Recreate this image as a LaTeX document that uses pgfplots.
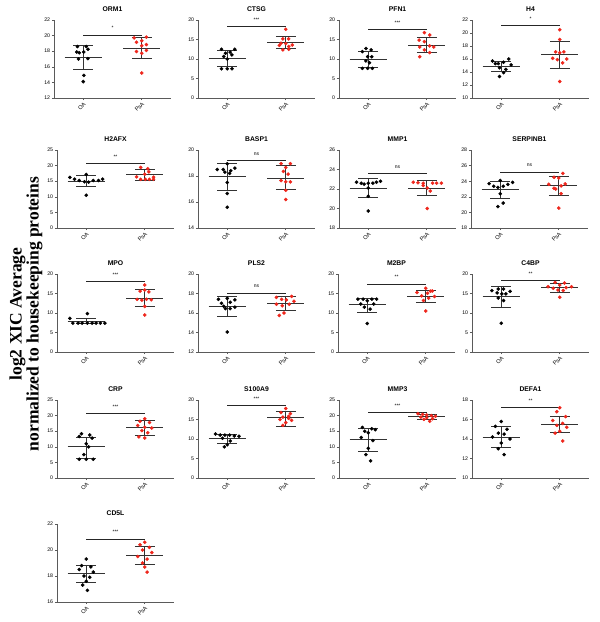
\documentclass[border=0pt]{standalone}
\usepackage{fontspec}
\setmainfont{Liberation Sans}
\newfontfamily\labelfont{Liberation Serif}
\usepackage{pgfplots}
\pgfplotsset{compat=1.18}
\definecolor{psared}{RGB}{238,38,28}
\definecolor{axgray}{RGB}{90,90,90}

\pgfplotsset{
  panel/.style={
    width=117pt, height=78pt, scale only axis,
    anchor=south west,
    axis x line=bottom, axis y line=left,
    axis line style={-, axgray, line width=0.8pt},
    xmin=-0.5, xmax=1.5, xtick={0,1}, xticklabels={OA,PsA},
    tick align=outside, major tick length=2.2pt,
    tick style={axgray, line width=0.6pt},
    yticklabel style={font=\fontsize{5.2}{6}\selectfont, inner sep=1.5pt},
    xticklabel style={font=\fontsize{5.6}{6}\selectfont, rotate=45, anchor=north east, inner sep=1pt},
    /pgf/number format/assume math mode=true,
    title style={font=\bfseries\fontsize{6.8}{7}\selectfont, yshift=-1pt},
    clip=false,
  },
  oa/.style={only marks, mark=*, mark size=1.6pt, black},
  psa/.style={only marks, mark=*, mark size=1.6pt, psared, mark options={draw=psared, fill=psared}},
  meanline/.style={black!80, line width=0.8pt, no marks},
  sdline/.style={black!80, line width=0.6pt, no marks},
  sigline/.style={black!85, line width=0.9pt, no marks},
}
\newcommand{\msdO}[3]{%
  \addplot[meanline] coordinates {(-0.32,#1) (0.32,#1)};
  \addplot[sdline] coordinates {(-0.17,#2) (0.17,#2)};
  \addplot[sdline] coordinates {(-0.17,#3) (0.17,#3)};
  \addplot[sdline] coordinates {(0,#2) (0,#3)};}
\newcommand{\msdP}[3]{%
  \addplot[meanline] coordinates {(0.68,#1) (1.32,#1)};
  \addplot[sdline] coordinates {(0.83,#2) (1.17,#2)};
  \addplot[sdline] coordinates {(0.83,#3) (1.17,#3)};
  \addplot[sdline] coordinates {(1,#2) (1,#3)};}
\newcommand{\sig}[2]{%
  \addplot[sigline] coordinates {(0,#1) (1,#1)} node[pos=0.5, above=1.5pt, black, font=\fontsize{5}{5}\selectfont] {#2};}

\begin{document}
\begin{tikzpicture}
\path[use as bounding box] (0,0) rectangle (600pt,-622pt);

% ---- row 1 ----
\begin{axis}[panel, at={(54pt,-98pt)}, title={ORM1}, ymin=12, ymax=22, ytick distance=2]
\addplot[oa] coordinates {(-0.10,18.6)(0.05,18.6)(0.08,18.25)(-0.11,17.9)(-0.07,17.8)(0.01,17.9)(-0.08,17.0)(0.08,17.05)(0.01,14.9)(0,14.1)};
\addplot[psa] coordinates {(0.87,19.7)(1.08,19.8)(0.91,19.15)(1.0,19.35)(1.08,18.85)(0.91,17.95)(1.08,18.1)(1.0,17.75)(1.0,18.7)(1.0,15.2)};
\msdO{17.2}{15.65}{18.75}
\msdP{18.4}{17.1}{19.75}
\sig{20.05}{*}
\end{axis}

\begin{axis}[panel, at={(198pt,-98pt)}, title={CTSG}, ymin=0, ymax=20, ytick distance=5]
\addplot[oa] coordinates {(-0.10,12.5)(0.13,12.5)(-0.03,11.5)(0.05,11.75)(0.08,11.05)(-0.06,10.65)(0,10.0)(-0.10,7.5)(0,7.5)(0.08,7.5)};
\addplot[psa] coordinates {(1.0,17.6)(0.95,15.15)(1.05,15.15)(0.92,14.05)(1.0,13.95)(1.11,13.6)(1.05,13.2)(0.95,12.35)(1.05,12.5)(0.89,13.5)};
\msdO{10.2}{8.25}{12.2}
\msdP{14.2}{12.7}{15.75}
\sig{18.3}{***}
\end{axis}

\begin{axis}[panel, at={(339pt,-98pt)}, title={PFN1}, ymin=0, ymax=20, ytick distance=5]
\addplot[oa] coordinates {(-0.04,12.7)(0.05,12.35)(-0.10,11.9)(-0.01,10.6)(0.06,10.6)(-0.04,9.5)(0.02,9.05)(-0.10,7.6)(-0.01,7.6)(0.07,7.6)};
\addplot[psa] coordinates {(0.96,16.75)(1.05,16.15)(0.87,14.85)(0.96,14.45)(1.05,13.35)(1.12,13.1)(0.88,13.1)(0.96,12.35)(1.05,11.65)(0.88,10.6)};
\msdO{9.8}{7.8}{11.9}
\msdP{13.45}{11.65}{15.5}
\sig{17.6}{***}
\end{axis}

\begin{axis}[panel, at={(472pt,-98pt)}, title={H4}, ymin=10, ymax=22, ytick distance=2]
\addplot[oa] coordinates {(-0.15,15.7)(0.13,16.0)(0.04,15.5)(-0.10,15.3)(-0.05,15.3)(0.17,15.1)(-0.03,14.65)(0.08,14.4)(0.04,13.9)(-0.03,13.3)};
\addplot[psa] coordinates {(1.0,20.5)(1.0,19.0)(0.93,17.1)(1.0,16.95)(1.07,17.1)(0.88,16.1)(0.96,15.9)(1.05,15.4)(1.12,16.0)(1.0,12.55)};
\msdO{14.9}{14.15}{15.7}
\msdP{16.75}{14.55}{18.8}
\sig{21.15}{*}
\end{axis}

% ---- row 2 ----
\begin{axis}[panel, at={(57pt,-228pt)}, title={H2AFX}, ymin=0, ymax=25, ytick distance=5]
\addplot[oa] coordinates {(-0.28,16.2)(-0.20,15.65)(-0.12,15.25)(-0.03,14.8)(0.04,14.7)(0.12,15.25)(0.21,15.25)(0.28,15.65)(0,17.15)(0,10.5)};
\addplot[psa] coordinates {(0.93,19.4)(1.05,19.0)(1.07,18.0)(0.86,16.4)(0.93,15.6)(1.01,15.6)(1.08,15.6)(1.15,15.6)(1.0,17.2)(1.15,16.3)};
\msdO{15.0}{13.4}{16.85}
\msdP{17.15}{15.45}{18.9}
\sig{20.7}{**}
\end{axis}

\begin{axis}[panel, at={(198pt,-228pt)}, title={BASP1}, ymin=14, ymax=20, ytick distance=2]
\addplot[oa] coordinates {(0,18.95)(-0.17,18.5)(-0.07,18.5)(0.13,18.6)(-0.04,18.3)(0.04,18.2)(0.06,18.4)(0,17.5)(0,16.65)(0,15.6)};
\addplot[psa] coordinates {(0.92,18.95)(1.08,18.95)(1.0,18.65)(0.96,18.35)(1.04,18.15)(0.92,17.65)(1.0,17.55)(1.08,17.55)(1.0,16.9)(1.0,16.2)};
\msdO{17.95}{16.9}{18.95}
\msdP{17.85}{17.0}{18.8}
\sig{19.2}{ns}
\end{axis}

\begin{axis}[panel, at={(339pt,-228pt)}, title={MMP1}, ymin=18, ymax=26, ytick distance=2]
\addplot[oa] coordinates {(-0.20,22.7)(-0.12,22.6)(-0.07,22.5)(0,22.6)(0.08,22.6)(0.14,22.7)(0.21,22.8)(0,22.1)(0,21.25)(0,19.75)};
\addplot[psa] coordinates {(0.77,22.7)(0.85,22.65)(0.94,22.6)(1.10,22.6)(1.17,22.6)(1.25,22.6)(0.94,22.35)(1.01,22.1)(1.06,21.8)(1.01,20.0)};
\msdO{22.1}{21.2}{23.1}
\msdP{22.1}{21.4}{22.85}
\sig{23.55}{ns}
\end{axis}

\begin{axis}[panel, at={(471pt,-228pt)}, title={SERPINB1}, ymin=18, ymax=28, ytick distance=2]
\addplot[oa] coordinates {(0,24.1)(-0.19,23.7)(-0.11,23.35)(-0.04,23.2)(0.05,23.35)(0.13,23.6)(0.21,23.85)(0,22.4)(0.05,21.2)(-0.04,20.75)};
\addplot[psa] coordinates {(1.07,25.0)(0.92,24.5)(1.0,24.4)(0.83,23.6)(1.11,23.65)(0.92,23.1)(0.95,23.0)(1.04,23.4)(1.04,22.4)(1.0,20.55)};
\msdO{22.9}{21.85}{24.0}
\msdP{23.4}{22.2}{24.6}
\sig{25.15}{ns}
\end{axis}

% ---- row 3 ----
\begin{axis}[panel, at={(57pt,-352pt)}, title={MPO}, ymin=0, ymax=20, ytick distance=5]
\addplot[oa] coordinates {(-0.28,8.65)(0.02,9.85)(-0.23,7.4)(-0.14,7.4)(-0.07,7.4)(0.02,7.4)(0.10,7.4)(0.17,7.4)(0.24,7.4)(0.32,7.4)};
\addplot[psa] coordinates {(1.0,17.2)(0.92,15.6)(1.0,15.9)(1.07,15.4)(0.87,13.5)(0.95,13.3)(1.03,13.5)(1.11,13.4)(1.0,11.7)(1.0,9.5)};
\msdO{7.95}{7.4}{8.55}
\msdP{13.85}{11.6}{16.1}
\sig{18.05}{***}
\end{axis}

\begin{axis}[panel, at={(198pt,-352pt)}, title={PLS2}, ymin=12, ymax=20, ytick distance=2]
\addplot[oa] coordinates {(-0.15,17.4)(0,17.5)(0.13,17.35)(-0.10,17.0)(0.05,17.1)(-0.06,16.7)(-0.03,16.45)(0.05,16.45)(0.13,16.6)(0,14.05)};
\addplot[psa] coordinates {(0.84,17.6)(0.93,17.4)(1.01,17.35)(1.10,17.7)(1.14,17.2)(0.84,16.9)(0.94,16.75)(1.06,16.9)(0.97,16.0)(0.89,15.75)};
\msdO{16.7}{15.65}{17.7}
\msdP{17.0}{16.3}{17.75}
\sig{18.05}{ns}
\end{axis}

\begin{axis}[panel, at={(338pt,-352pt)}, title={M2BP}, ymin=0, ymax=20, ytick distance=5]
\addplot[oa] coordinates {(-0.16,13.55)(-0.07,13.55)(0.08,13.55)(0.16,13.55)(0,13.15)(-0.11,12.3)(0.11,12.3)(-0.05,11.5)(0.05,11.0)(0,7.3)};
\addplot[psa] coordinates {(1.0,16.35)(0.85,15.25)(1.11,15.65)(0.93,14.4)(1.03,15.05)(1.15,14.25)(1.05,13.8)(0.96,13.2)(1.0,10.5)(1.08,15.6)};
\msdO{12.2}{10.3}{13.75}
\msdP{14.3}{12.7}{15.95}
\sig{17.4}{**}
\end{axis}

\begin{axis}[panel, at={(472pt,-352pt)}, title={C4BP}, ymin=0, ymax=20, ytick distance=5]
\addplot[oa] coordinates {(-0.16,15.75)(-0.05,16.15)(0.04,16.15)(0.15,15.55)(-0.07,15.15)(0.01,14.9)(0.08,14.9)(-0.05,13.85)(0.04,13.2)(0,7.4)};
\addplot[psa] coordinates {(0.92,17.85)(1.08,17.7)(1.0,17.2)(0.80,16.75)(1.20,16.75)(0.89,16.35)(0.97,15.9)(1.06,15.75)(1.11,16.5)(1.0,14.05)};
\msdO{14.2}{11.5}{16.75}
\msdP{16.5}{15.4}{17.6}
\sig{18.3}{**}
\end{axis}

% ---- row 4 ----
\begin{axis}[panel, at={(57pt,-478pt)}, title={CRP}, ymin=0, ymax=25, ytick distance=5]
\addplot[oa] coordinates {(-0.08,14.2)(0.06,13.8)(-0.12,13.3)(0.10,12.8)(0,11.0)(0.04,10.0)(-0.04,7.5)(-0.12,6.0)(0,6.0)(0.12,6.0)};
\addplot[psa] coordinates {(1.0,19.0)(0.92,18.2)(1.08,17.8)(0.88,16.8)(1.0,16.3)(1.12,16.0)(0.95,15.2)(1.05,14.5)(0.90,13.2)(1.0,12.8)};
\msdO{10.0}{6.25}{13.1}
\msdP{16.2}{13.75}{18.4}
\sig{20.6}{***}
\end{axis}

\begin{axis}[panel, at={(198pt,-478pt)}, title={S100A9}, ymin=0, ymax=20, ytick distance=5]
\addplot[oa] coordinates {(-0.20,11.3)(-0.12,11.0)(-0.04,11.0)(0.04,11.0)(0.12,10.8)(0.20,10.7)(-0.08,10.2)(0.05,9.5)(0,8.5)(-0.05,8.0)};
\addplot[psa] coordinates {(1.0,17.8)(0.92,16.8)(1.08,16.5)(0.95,15.6)(1.05,15.3)(0.90,15.0)(1.10,14.8)(1.0,14.2)(0.95,13.5)(1.05,15.8)};
\msdO{10.2}{9.0}{11.3}
\msdP{15.5}{13.3}{17.0}
\sig{18.5}{***}
\end{axis}

\begin{axis}[panel, at={(339pt,-478pt)}, title={MMP3}, ymin=0, ymax=25, ytick distance=5]
\addplot[oa] coordinates {(-0.10,16.2)(0.06,15.8)(0.12,15.5)(-0.06,15.0)(0,14.5)(-0.12,13.0)(0.08,12.0)(0,9.5)(-0.04,7.5)(0.04,5.5)};
\addplot[psa] coordinates {(0.85,20.6)(0.93,20.4)(1.0,20.2)(1.08,20.0)(1.15,19.8)(0.90,19.5)(1.0,19.3)(1.10,19.0)(0.95,18.8)(1.05,18.2)};
\msdO{12.3}{8.6}{16.0}
\msdP{19.6}{18.8}{20.4}
\sig{21.0}{***}
\end{axis}

\begin{axis}[panel, at={(472pt,-478pt)}, title={DEFA1}, ymin=10, ymax=18, ytick distance=2]
\addplot[oa] coordinates {(0,15.8)(-0.10,15.3)(0.10,15.0)(-0.05,14.6)(0.05,14.5)(-0.15,14.2)(0.15,14.0)(0,13.6)(-0.05,13.0)(0.05,12.4)};
\addplot[psa] coordinates {(1.0,17.2)(0.95,16.8)(1.10,16.3)(0.88,15.9)(1.05,15.6)(0.95,15.4)(1.12,15.2)(1.0,14.8)(0.92,14.6)(1.05,13.8)};
\msdO{14.2}{13.2}{15.3}
\msdP{15.5}{14.7}{16.3}
\sig{17.2}{**}
\end{axis}

% ---- row 5 ----
\begin{axis}[panel, at={(57pt,-602pt)}, title={CD5L}, ymin=16, ymax=22, ytick distance=2]
\addplot[oa] coordinates {(0,19.3)(-0.08,18.8)(0.08,18.7)(-0.12,18.5)(0.12,18.3)(-0.04,18.0)(0.06,17.9)(0,17.6)(-0.06,17.3)(0.02,16.9)};
\addplot[psa] coordinates {(1.0,20.6)(0.92,20.4)(1.08,20.2)(0.96,20.0)(1.12,19.8)(0.88,19.5)(1.04,19.3)(0.96,19.0)(1.0,18.7)(1.04,18.3)};
\msdO{18.2}{17.5}{18.8}
\msdP{19.6}{18.9}{20.3}
\sig{20.85}{***}
\end{axis}

\node[rotate=90, align=center, font=\labelfont\bfseries\fontsize{17.5}{17}\selectfont]
  at (26pt,-314pt) {log2 XIC Average\\normalized to housekeeping proteins};
\end{tikzpicture}
\end{document}
